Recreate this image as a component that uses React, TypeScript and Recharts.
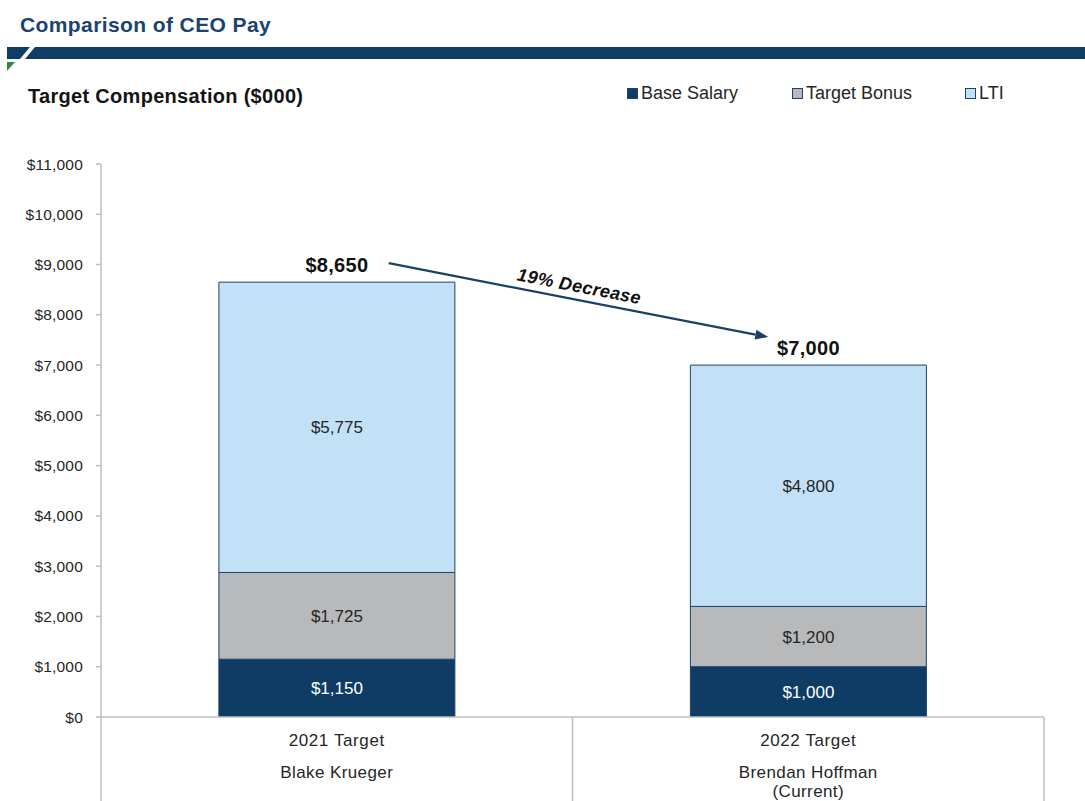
import React from 'react';
import { BarChart, Bar, XAxis, YAxis, LabelList, ReferenceLine, Legend } from 'recharts';

const categories = ['2021 Target', '2022 Target'];
const executives = [['Blake Krueger'], ['Brendan Hoffman', '(Current)']];
const baseSalary = [1150, 1000];
const targetBonus = [1725, 1200];
const lti = [5775, 4800];
const yTicks = [0, 1000, 2000, 3000, 4000, 5000, 6000, 7000, 8000, 9000, 10000, 11000];
const seriesNames = ['Base Salary', 'Target Bonus', 'LTI'];
const changeLabel = '19% Decrease';

const totals = categories.map((_, i) => baseSalary[i] + targetBonus[i] + lti[i]);
const data = categories.map((c, i) => ({
  category: c,
  base: baseSalary[i],
  bonus: targetBonus[i],
  lti: lti[i],
}));

const FONT = '"Liberation Sans", Arial, Helvetica, sans-serif';
const NAVY = '#0E3C64';
const GRAY = '#B8B9BB';
const LIGHT = '#C3E1F6';
const EDGE = '#1F416B';
const AXIS = '#BFBFBF';
const TEXT = '#262626';
const colors = [NAVY, GRAY, LIGHT];

const W = 1085;
const H = 801;
const PLOT_LEFT = 101;
const PLOT_RIGHT = 1044;
const PLOT_TOP = 164;
const PLOT_BOTTOM = 717;

const fmt = (v: any) => `$${Number(v).toLocaleString('en-US')}`;

const XTick = (props: any) => {
  const { x, y, payload } = props;
  const i = payload.index ?? categories.indexOf(payload.value);
  const half = payload.offset && payload.offset > 0 ? payload.offset : (PLOT_RIGHT - PLOT_LEFT) / (2 * categories.length);
  const names = executives[i] || [];
  return (
    <g>
      <line x1={x - half} x2={x - half} y1={y} y2={H} stroke={AXIS} strokeWidth={1.5} />
      {i === categories.length - 1 && (
        <line x1={x + half} x2={x + half} y1={y} y2={H} stroke={AXIS} strokeWidth={1.5} />
      )}
      <text x={x} y={y + 29} textAnchor="middle" fontSize={17} letterSpacing={0.6} fill={TEXT} fontFamily={FONT}>
        {categories[i]}
      </text>
      {names.map((n, k) => (
        <text key={k} x={x} y={y + 61 + k * 19} textAnchor="middle" fontSize={17} letterSpacing={0.4} fill={TEXT} fontFamily={FONT}>
          {n}
        </text>
      ))}
    </g>
  );
};

const TotalLabel = (props: any) => {
  const { x, y, width, index } = props;
  return (
    <text x={x + width / 2} y={y - 10} textAnchor="middle" fontSize={20} fontWeight="bold" fill="#111" fontFamily={FONT} letterSpacing={0.3}>
      {fmt(totals[index])}
    </text>
  );
};

const ArrowShape = (props: any) => {
  const { x1, y1, x2, y2 } = props;
  if ([x1, y1, x2, y2].some((v) => typeof v !== 'number' || isNaN(v))) return null;
  const sx = x1 + 52;
  const sy = y1 - 19;
  const ex = x2 - 40;
  const ey = y2 - 28;
  const ang = Math.atan2(ey - sy, ex - sx);
  const hl = 13;
  const hw = 5;
  const bx = ex - hl * Math.cos(ang);
  const by = ey - hl * Math.sin(ang);
  const px = -Math.sin(ang) * hw;
  const py = Math.cos(ang) * hw;
  const mx = (sx + ex) / 2;
  const my = (sy + ey) / 2;
  const deg = (ang * 180) / Math.PI;
  return (
    <g>
      <line x1={sx} y1={sy} x2={bx} y2={by} stroke="#1B3F66" strokeWidth={2.2} />
      <polygon points={`${ex},${ey} ${bx + px},${by + py} ${bx - px},${by - py}`} fill="#1B3F66" />
      <text
        transform={`translate(${mx - 2},${my}) rotate(${deg})`}
        x={0}
        y={-8}
        textAnchor="middle"
        fontSize={18}
        fontWeight="bold"
        fontStyle="italic"
        fill="#111"
        fontFamily={FONT}
        letterSpacing={0.4}
      >
        {changeLabel}
      </text>
    </g>
  );
};

const LegendContent = () => (
  <div style={{ position: 'relative', width: 420, height: 22, fontFamily: FONT }}>
    {seriesNames.map((n, i) => (
      <div
        key={n}
        style={{
          position: 'absolute',
          left: [0, 165, 338][i],
          top: 0,
          display: 'flex',
          alignItems: 'center',
          whiteSpace: 'nowrap',
        }}
      >
        <span
          style={{
            display: 'inline-block',
            width: 9,
            height: 9,
            background: colors[i],
            border: `1.5px solid ${EDGE}`,
            marginRight: 3,
          }}
        />
        <span style={{ fontSize: 18, color: TEXT, lineHeight: '22px' }}>{n}</span>
      </div>
    ))}
  </div>
);

export default function App() {
  return (
    <div style={{ position: 'absolute', left: 0, top: 0, width: W, height: H, background: '#fff', fontFamily: FONT }}>
      <BarChart
        width={W}
        height={H}
        data={data}
        margin={{ top: PLOT_TOP, right: W - PLOT_RIGHT, bottom: 0, left: 0 }}
        barCategoryGap="25%"
      >
        <XAxis
          dataKey="category"
          height={H - PLOT_BOTTOM}
          axisLine={{ stroke: AXIS, strokeWidth: 1.5 }}
          tickLine={false}
          tickSize={0}
          tickMargin={0}
          tick={<XTick />}
          interval={0}
        />
        <YAxis
          width={PLOT_LEFT}
          domain={[0, 11000]}
          ticks={yTicks}
          tickFormatter={fmt}
          axisLine={{ stroke: AXIS, strokeWidth: 1.5 }}
          tickLine={{ stroke: AXIS, strokeWidth: 1.5 }}
          tickSize={5}
          tickMargin={13}
          tick={{ fontSize: 15.5, fill: TEXT, fontFamily: FONT, letterSpacing: 0.2 }}
          allowDataOverflow
        />
        <Legend
          layout="vertical"
          verticalAlign="middle"
          align="center"
          content={<LegendContent />}
          wrapperStyle={{ position: 'absolute', left: 627, top: 82, width: 420, height: 22 }}
        />
        <Bar dataKey="base" name={seriesNames[0]} stackId="a" fill={NAVY} stroke={EDGE} strokeWidth={1} isAnimationActive={false}>
          <LabelList dataKey="base" position="center" formatter={fmt} fill="#ffffff" fontSize={17} fontFamily={FONT} />
        </Bar>
        <Bar dataKey="bonus" name={seriesNames[1]} stackId="a" fill={GRAY} stroke={EDGE} strokeWidth={1} isAnimationActive={false}>
          <LabelList dataKey="bonus" position="center" formatter={fmt} fill={TEXT} fontSize={17} fontFamily={FONT} />
        </Bar>
        <Bar dataKey="lti" name={seriesNames[2]} stackId="a" fill={LIGHT} stroke={EDGE} strokeWidth={1} isAnimationActive={false}>
          <LabelList dataKey="lti" position="center" formatter={fmt} fill={TEXT} fontSize={17} fontFamily={FONT} />
          <LabelList dataKey="lti" content={<TotalLabel />} />
        </Bar>
        <ReferenceLine
          segment={[
            { x: categories[0], y: totals[0] },
            { x: categories[1], y: totals[1] },
          ]}
          ifOverflow="visible"
          shape={(p: any) => <ArrowShape {...p} />}
        />
      </BarChart>
      <svg width={W} height={120} style={{ position: 'absolute', left: 0, top: 0, pointerEvents: 'none' }}>
        <text x={20} y={32} fontSize={21} fontWeight="bold" fill="#1B4371" fontFamily={FONT} letterSpacing={0.4}>
          Comparison of CEO Pay
        </text>
        <rect x={7} y={47} width={W - 7} height={12} fill="#0F3D66" />
        <polygon points="30,47 35,47 25,59 20,59" fill="#ffffff" />
        <polygon points="7,62 15,62 7,71" fill="#2E8B3E" />
        <text x={28} y={103} fontSize={20} fontWeight="bold" fill="#141414" fontFamily={FONT} letterSpacing={0.3}>
          Target Compensation ($000)
        </text>
      </svg>
    </div>
  );
}
